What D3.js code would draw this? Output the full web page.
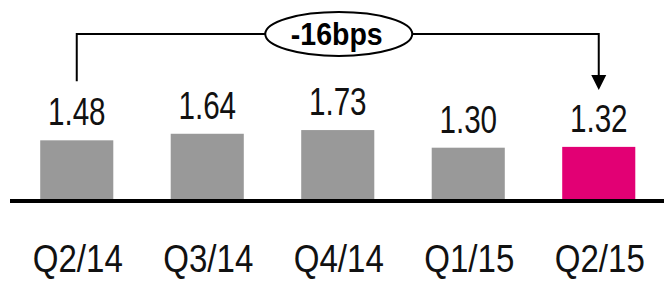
<!DOCTYPE html>
<html>
<head>
<meta charset="utf-8">
<script src="https://cdn.jsdelivr.net/npm/d3@7"></script>
<style>
  html, body { margin: 0; padding: 0; background: #ffffff; }
  svg { display: block; }
</style>
</head>
<body>
<svg id="chart" width="664" height="282"></svg>
<script>
const categories = ["Q2/14", "Q3/14", "Q4/14", "Q1/15", "Q2/15"];
const values = [1.48, 1.64, 1.73, 1.30, 1.32];
const valueLabels = ["1.48", "1.64", "1.73", "1.30", "1.32"];
const highlight = [false, false, false, false, true];
const changeLabel = "-16bps";

const svg = d3.select("#chart");
const W = 664, H = 282;
const FONT = "'Liberation Sans', Arial, sans-serif";

const x = d3.scaleBand()
  .domain(categories)
  .range([11.5, 664])
  .paddingInner(0.44)
  .paddingOuter(0.22);

const y = d3.scaleLinear().domain([0, 2]).range([201, 119]);

// bars
svg.append("g").selectAll("rect")
  .data(categories)
  .join("rect")
  .attr("x", d => x(d))
  .attr("width", x.bandwidth())
  .attr("y", (d, i) => y(values[i]))
  .attr("height", (d, i) => y(0) - y(values[i]))
  .attr("fill", (d, i) => highlight[i] ? "#e20074" : "#999999");

// baseline axis
svg.append("line")
  .attr("x1", 10).attr("x2", W)
  .attr("y1", y(0)).attr("y2", y(0))
  .attr("stroke", "#000").attr("stroke-width", 4);

// value labels (condensed)
svg.append("g").selectAll("text")
  .data(categories)
  .join("text")
  .attr("transform", (d, i) => `translate(${x(d) + x.bandwidth() / 2},${y(values[i]) - 15}) scale(0.78,1)`)
  .attr("text-anchor", "middle")
  .attr("font-family", FONT)
  .attr("font-size", 38)
  .attr("fill", "#111")
  .text((d, i) => valueLabels[i]);

// category labels (condensed)
svg.append("g").selectAll("text")
  .data(categories)
  .join("text")
  .attr("transform", d => `translate(${x(d) + x.bandwidth() / 2 + 1},272) scale(0.87,1)`)
  .attr("text-anchor", "middle")
  .attr("font-family", FONT)
  .attr("font-size", 38)
  .attr("fill", "#111")
  .text(d => d);

// change bracket
const first = categories[0], last = categories[categories.length - 1];
const x1 = x(first) + x.bandwidth() / 2;
const x2 = x(last) + x.bandwidth() / 2;
const topY = 34;
const startY = y(values[0]) - 59;
const tipY = y(values[values.length - 1]) - 57;

svg.append("path")
  .attr("d", `M${x1},${startY} V${topY} H${x2} V${tipY - 14}`)
  .attr("fill", "none")
  .attr("stroke", "#000")
  .attr("stroke-width", 2);

svg.append("path")
  .attr("d", `M${x2 - 7.5},${tipY - 15} L${x2 + 7.5},${tipY - 15} L${x2},${tipY} Z`)
  .attr("fill", "#000");

const cx = (x1 + x2) / 2 + 1;
svg.append("ellipse")
  .attr("cx", cx).attr("cy", topY)
  .attr("rx", 73.5).attr("ry", 22)
  .attr("fill", "#fff")
  .attr("stroke", "#000")
  .attr("stroke-width", 2);

svg.append("text")
  .attr("transform", `translate(${cx - 2},${topY + 11}) scale(0.92,1)`)
  .attr("text-anchor", "middle")
  .attr("font-family", FONT)
  .attr("font-weight", "bold")
  .attr("font-size", 31)
  .attr("fill", "#000")
  .text(changeLabel);
</script>
</body>
</html>
